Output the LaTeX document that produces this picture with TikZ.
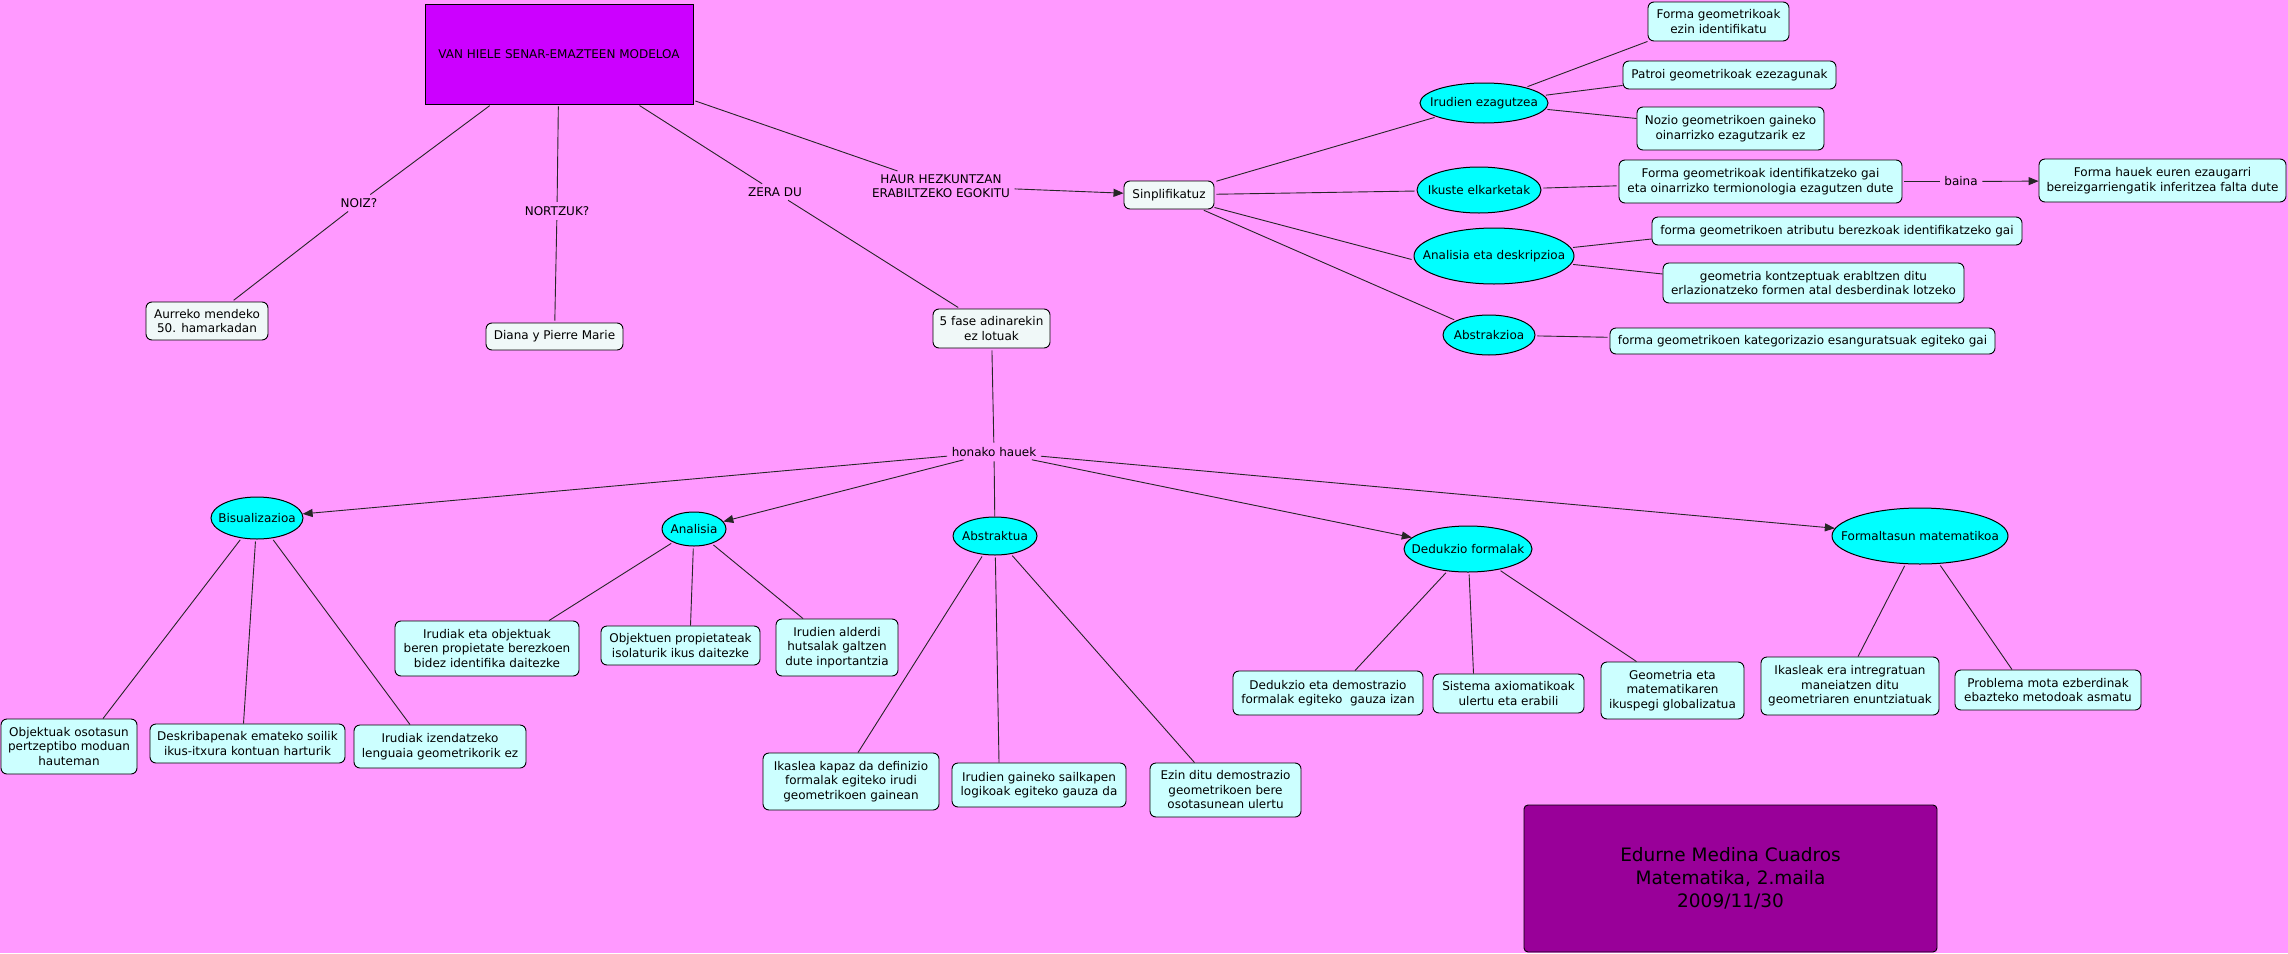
\documentclass[tikz,border=0pt]{standalone}
\usepackage{fontspec}
\setmainfont{DejaVu Sans}
\usetikzlibrary{shapes.geometric,arrows.meta}
\definecolor{bg}{RGB}{255,153,255}
\definecolor{leafc}{RGB}{204,255,255}
\definecolor{palec}{RGB}{240,248,248}
\definecolor{ellc}{RGB}{0,255,255}
\definecolor{titlec}{RGB}{204,0,255}
\definecolor{authc}{RGB}{153,0,153}
\begin{document}
\begin{tikzpicture}[x=1pt,y=-1pt,
 every node/.style={font=\fontsize{12}{14.5}\selectfont, align=center, inner sep=0pt},
 leaf/.style={draw=black, fill=leafc, rounded corners=6pt, line width=0.9pt},
 pale/.style={leaf, fill=palec},
 ell/.style={ellipse, draw=black, fill=ellc, line width=1pt},
 lbl/.style={inner sep=2.5pt},
 conn/.style={draw=black!85, line width=0.9pt, shorten <=2pt, shorten >=2pt},
 arr/.style={draw=black!85, line width=0.9pt, shorten <=2pt, -{Triangle[length=10pt,width=8pt]}}
]
\fill[bg] (0,0) rectangle (2288,953);
\useasboundingbox (0,0) rectangle (2288,953);

% top part
\node[draw=black, fill=titlec, minimum width=268pt, minimum height=100pt, line width=0.9pt] (title) at (559,54) {VAN HIELE SENAR-EMAZTEEN MODELOA};
\node[lbl] (noiz) at (359,203) {NOIZ?};
\node[lbl] (nortzuk) at (557,211) {NORTZUK?};
\node[lbl] (zera) at (775,192) {ZERA DU};
\node[lbl] (haur) at (941,186) {HAUR HEZKUNTZAN\\ERABILTZEKO EGOKITU};
\node[pale, minimum width=122pt, minimum height=38pt] (aurreko) at (207,321) {Aurreko mendeko\\50. hamarkadan};
\node[pale, minimum width=137pt, minimum height=27pt] (diana) at (554.5,336.5) {Diana y Pierre Marie};
\node[pale, minimum width=117pt, minimum height=39pt] (fase) at (991.5,328.5) {5 fase adinarekin\\ez lotuak};
\node[pale, minimum width=90pt, minimum height=28pt] (sinp) at (1169,195) {Sinplifikatuz};

% right upper branch
\node[ell, minimum width=128pt, minimum height=40pt] (irudEz) at (1484,103) {\makebox[0pt]{Irudien ezagutzea}};
\node[ell, minimum width=124pt, minimum height=46pt] (ikuste) at (1479,190) {\makebox[0pt]{Ikuste elkarketak}};
\node[ell, minimum width=160pt, minimum height=56pt] (analDesk) at (1494,256) {\makebox[0pt]{Analisia eta deskripzioa}};
\node[ell, minimum width=92pt, minimum height=40pt] (abstrakzioa) at (1489,335) {\makebox[0pt]{Abstrakzioa}};

\node[leaf, minimum width=141pt, minimum height=39pt] (f1) at (1718.5,21.5) {Forma geometrikoak\\ezin identifikatu};
\node[leaf, minimum width=213pt, minimum height=28pt] (f2) at (1729.5,75) {Patroi geometrikoak ezezagunak};
\node[leaf, minimum width=187pt, minimum height=43pt] (f3) at (1730.5,128.5) {Nozio geometrikoen gaineko\\oinarrizko ezagutzarik ez};
\node[leaf, minimum width=283pt, minimum height=43pt] (f4) at (1760.5,181.5) {Forma geometrikoak identifikatzeko gai\\eta oinarrizko termionologia ezagutzen dute};
\node[lbl] (baina) at (1961,181.5) {baina};
\node[leaf, minimum width=247pt, minimum height=43pt] (f5) at (2162.5,180.5) {Forma hauek euren ezaugarri\\bereizgarriengatik inferitzea falta dute};
\node[leaf, minimum width=370pt, minimum height=28pt] (f6) at (1837,231) {forma geometrikoen atributu berezkoak identifikatzeko gai};
\node[leaf, minimum width=301pt, minimum height=40pt] (f7) at (1813.5,283) {geometria kontzeptuak erabltzen ditu\\erlazionatzeko formen atal desberdinak lotzeko};
\node[leaf, minimum width=385pt, minimum height=26pt] (f8) at (1802.5,341) {forma geometrikoen kategorizazio esanguratsuak egiteko gai};

% lower part
\node[lbl] (honako) at (994,452) {honako hauek};
\node[ell, minimum width=92pt, minimum height=42pt] (bis) at (257,518) {\makebox[0pt]{Bisualizazioa}};
\node[ell, minimum width=64pt, minimum height=34pt] (anal) at (694,529) {\makebox[0pt]{Analisia}};
\node[ell, minimum width=84pt, minimum height=38pt] (abstr) at (995,536) {\makebox[0pt]{Abstraktua}};
\node[ell, minimum width=128pt, minimum height=46pt] (dedu) at (1468,549) {\makebox[0pt]{Dedukzio formalak}};
\node[ell, minimum width=176pt, minimum height=56pt] (formal) at (1920,536) {\makebox[0pt]{Formaltasun matematikoa}};

\node[leaf, minimum width=136pt, minimum height=55pt] (b1) at (69,746.5) {Objektuak osotasun\\pertzeptibo moduan\\hauteman};
\node[leaf, minimum width=195pt, minimum height=39pt] (b2) at (247.5,743.5) {Deskribapenak emateko soilik\\ikus-itxura kontuan harturik};
\node[leaf, minimum width=172pt, minimum height=43pt] (b3) at (440,746.5) {Irudiak izendatzeko\\lenguaia geometrikorik ez};
\node[leaf, minimum width=184pt, minimum height=55pt] (a1) at (487,648.5) {Irudiak eta objektuak\\beren propietate berezkoen\\bidez identifika daitezke};
\node[leaf, minimum width=159pt, minimum height=39pt] (a2) at (680.5,645.5) {Objektuen propietateak\\isolaturik ikus daitezke};
\node[leaf, minimum width=122pt, minimum height=57pt] (a3) at (837,647.5) {Irudien alderdi\\hutsalak galtzen\\dute inportantzia};
\node[leaf, minimum width=176pt, minimum height=57pt] (s1) at (851,781.5) {Ikaslea kapaz da definizio\\formalak egiteko irudi\\geometrikoen gainean};
\node[leaf, minimum width=174pt, minimum height=44pt] (s2) at (1039,785) {Irudien gaineko sailkapen\\logikoak egiteko gauza da};
\node[leaf, minimum width=151pt, minimum height=54pt] (s3) at (1225.5,790) {Ezin ditu demostrazio\\geometrikoen bere\\osotasunean ulertu};
\node[leaf, minimum width=190pt, minimum height=44pt] (d1) at (1328,693) {Dedukzio eta demostrazio\\formalak egiteko\ \ gauza izan};
\node[leaf, minimum width=151pt, minimum height=39pt] (d2) at (1508.5,693.5) {Sistema axiomatikoak\\ulertu eta erabili};
\node[leaf, minimum width=143pt, minimum height=57pt] (d3) at (1672.5,690.5) {Geometria eta\\matematikaren\\ikuspegi globalizatua};
\node[leaf, minimum width=178pt, minimum height=58pt] (m1) at (1850,686) {Ikasleak era intregratuan\\maneiatzen ditu\\geometriaren enuntziatuak};
\node[leaf, minimum width=186pt, minimum height=40pt] (m2) at (2048,690) {Problema mota ezberdinak\\ebazteko metodoak asmatu};

\node[draw=black, fill=authc, rounded corners=4pt, line width=0.9pt, minimum width=413pt, minimum height=147pt, font=\fontsize{18.5}{23}\selectfont] (author) at (1730.5,878.5) {Edurne Medina Cuadros\\Matematika, 2.maila\\2009/11/30};

% connectors
\draw[conn] (title) -- (noiz);
\draw[conn] (noiz) -- (aurreko);
\draw[conn] (title) -- (nortzuk);
\draw[conn] (nortzuk) -- (diana);
\draw[conn] (title) -- (zera);
\draw[conn] (zera) -- (fase);
\draw[conn] (title) -- (haur);
\draw[arr] (haur) -- (sinp);

\draw[conn] (sinp) -- (irudEz);
\draw[conn] (sinp) -- (ikuste);
\draw[conn, shorten <=0pt] ([yshift=2pt]sinp.south east) -- ([yshift=-4pt]analDesk.west);
\draw[conn] (sinp) -- (abstrakzioa);
\draw[conn, shorten >=0pt] (irudEz) -- (f1.south west);
\draw[conn, shorten >=0pt] (irudEz) -- ([yshift=4pt]f2.south west);
\draw[conn, shorten >=0pt] (irudEz) -- ([yshift=10pt]f3.west);
\draw[conn] (ikuste) -- (f4);
\draw[conn] (f4) -- (baina);
\draw[arr] (baina) -- (f5);
\draw[conn, shorten >=0pt] (analDesk) -- ([yshift=-8pt]f6.west);
\draw[conn, shorten >=0pt] (analDesk) -- ([yshift=9pt]f7.west);
\draw[conn] (abstrakzioa) -- (f8);

\draw[conn] (fase) -- (honako);
\draw[arr] (honako) -- (bis);
\draw[arr] (honako) -- (anal);
\draw[conn, shorten >=0pt] (honako) -- (abstr);
\draw[arr] (honako) -- (dedu);
\draw[arr] (honako) -- (formal);

\draw[conn, shorten >=0pt] (bis) -- ([xshift=34pt]b1.north);
\draw[conn, shorten >=0pt] (bis) -- ([xshift=-4pt]b2.north);
\draw[conn, shorten >=0pt] (bis) -- ([xshift=-30pt]b3.north);
\draw[conn, shorten >=0pt] (anal) -- ([xshift=62pt]a1.north);
\draw[conn, shorten >=0pt] (anal) -- ([xshift=10pt]a2.north);
\draw[conn, shorten >=0pt] (anal) -- ([xshift=-34pt]a3.north);
\draw[conn, shorten >=0pt] (abstr) -- ([xshift=7pt]s1.north);
\draw[conn, shorten >=0pt] (abstr) -- ([xshift=-40pt]s2.north);
\draw[conn, shorten >=0pt] (abstr) -- ([xshift=-31pt]s3.north);
\draw[conn, shorten >=0pt] (dedu) -- ([xshift=27pt]d1.north);
\draw[conn, shorten >=0pt] (dedu) -- ([xshift=-35pt]d2.north);
\draw[conn, shorten >=0pt] (dedu) -- ([xshift=-36pt]d3.north);
\draw[conn, shorten >=0pt] (formal) -- ([xshift=8pt]m1.north);
\draw[conn, shorten >=0pt] (formal) -- ([xshift=-36pt]m2.north);
\end{tikzpicture}
\end{document}
